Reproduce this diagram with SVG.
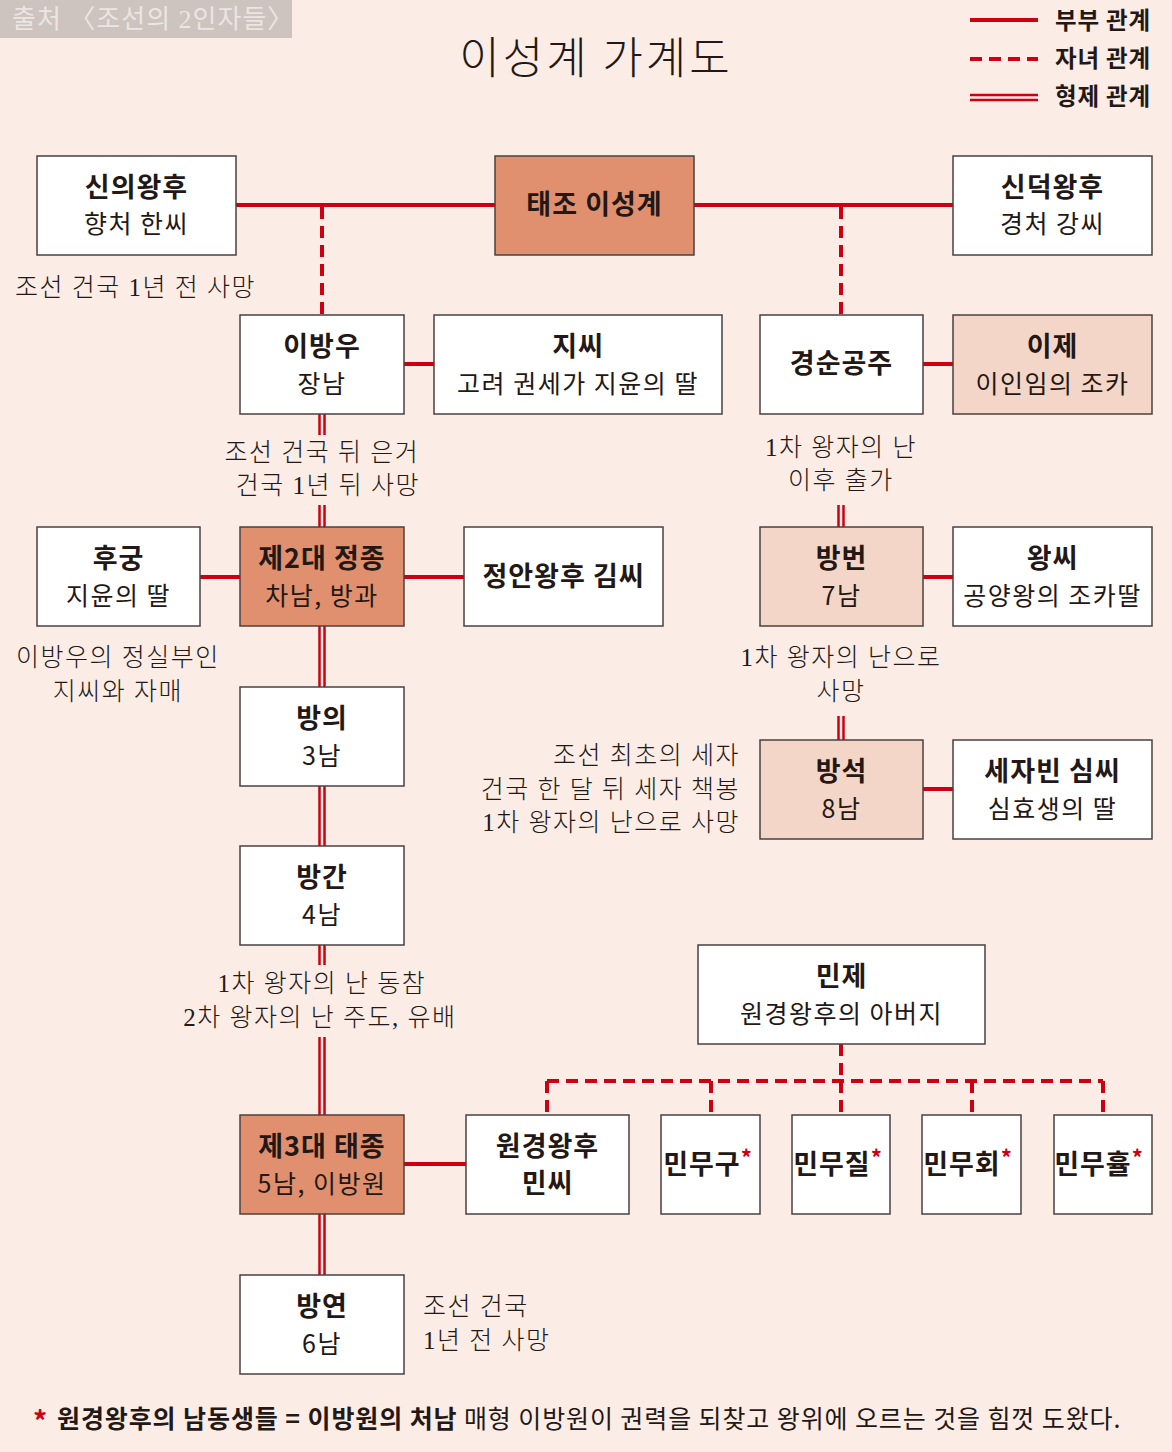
<svg xmlns="http://www.w3.org/2000/svg" width="1172" height="1452" viewBox="0 0 1172 1452">
<style>
.bg{fill:#fbede6}
.box{fill:#ffffff;stroke:#4a4040;stroke-width:1.5}
.dark{fill:#e0906e;stroke:#4a4040;stroke-width:1.5}
.light{fill:#f3d6c7;stroke:#4a4040;stroke-width:1.5}
.b{font-family:"Noto Sans CJK KR","Noto Sans",sans-serif;font-weight:700;font-size:27px;fill:#231815;text-anchor:middle;letter-spacing:1px}
.r{font-family:"Noto Sans CJK KR","Noto Sans",sans-serif;font-weight:400;font-size:25px;fill:#231815;text-anchor:middle;letter-spacing:1.5px}
.n{font-family:"Liberation Serif","Noto Sans CJK KR",serif;font-weight:300;font-size:25px;fill:#231815;letter-spacing:1.5px}
.sp{stroke:#cc0011;stroke-width:4;fill:none}
.ch{stroke:#cc0011;stroke-width:4;fill:none;stroke-dasharray:12 7}
.db{stroke:#cc0011;stroke-width:2.5;fill:none}
.star{fill:#cc0011}
.lg{font-family:"Noto Sans CJK KR",sans-serif;font-weight:700;font-size:23.5px;fill:#231815;letter-spacing:0.8px}
</style>
<rect class="bg" x="0" y="0" width="1172" height="1452"/>

<g id="source">
<rect x="0" y="0" width="292" height="38" fill="#cdc3bf"/>
<text x="12" y="28" font-family="Liberation Serif,'Noto Sans CJK KR',serif" font-size="26" letter-spacing="1" fill="#ece5e1">출처 〈조선의 2인자들〉</text>
</g>

<text id="title" x="596" y="74" font-family="'Noto Sans CJK KR',sans-serif" font-weight="300" font-size="44" fill="#231815" text-anchor="middle" letter-spacing="3">이성계 가계도</text>

<g id="legend">
<line class="sp" x1="970" y1="20" x2="1038" y2="20"/>
<line class="ch" x1="970" y1="59" x2="1038" y2="59" stroke-dasharray="10 8"/>
<line class="db" x1="970" y1="95" x2="1038" y2="95"/>
<line class="db" x1="970" y1="100" x2="1038" y2="100"/>
<text class="lg" x="1055" y="29">부부 관계</text>
<text class="lg" x="1055" y="67">자녀 관계</text>
<text class="lg" x="1055" y="105">형제 관계</text>
</g>

<g id="connectors">
<line class="sp" x1="236" y1="205" x2="495" y2="205"/>
<line class="sp" x1="694" y1="205" x2="953" y2="205"/>
<line class="ch" x1="322" y1="207" x2="322" y2="315"/>
<line class="ch" x1="841" y1="207" x2="841" y2="315"/>
<line class="sp" x1="404" y1="364" x2="434" y2="364"/>
<line class="sp" x1="923" y1="364" x2="953" y2="364"/>
<line class="sp" x1="200" y1="577" x2="240" y2="577"/>
<line class="sp" x1="404" y1="577" x2="464" y2="577"/>
<line class="sp" x1="923" y1="577" x2="953" y2="577"/>
<line class="sp" x1="923" y1="789" x2="953" y2="789"/>
<line class="sp" x1="404" y1="1164" x2="466" y2="1164"/>
<g class="db">
<line x1="319.5" y1="414" x2="319.5" y2="435"/><line x1="324.5" y1="414" x2="324.5" y2="435"/>
<line x1="319.5" y1="505" x2="319.5" y2="527"/><line x1="324.5" y1="505" x2="324.5" y2="527"/>
<line x1="319.5" y1="626" x2="319.5" y2="687"/><line x1="324.5" y1="626" x2="324.5" y2="687"/>
<line x1="319.5" y1="786" x2="319.5" y2="846"/><line x1="324.5" y1="786" x2="324.5" y2="846"/>
<line x1="319.5" y1="945" x2="319.5" y2="965"/><line x1="324.5" y1="945" x2="324.5" y2="965"/>
<line x1="319.5" y1="1037" x2="319.5" y2="1115"/><line x1="324.5" y1="1037" x2="324.5" y2="1115"/>
<line x1="319.5" y1="1214" x2="319.5" y2="1275"/><line x1="324.5" y1="1214" x2="324.5" y2="1275"/>
<line x1="838.5" y1="505" x2="838.5" y2="527"/><line x1="843.5" y1="505" x2="843.5" y2="527"/>
<line x1="838.5" y1="716" x2="838.5" y2="740"/><line x1="843.5" y1="716" x2="843.5" y2="740"/>
</g>
<line class="ch" x1="841" y1="1044" x2="841" y2="1081"/>
<line class="ch" x1="547" y1="1081" x2="1103" y2="1081"/>
<line class="ch" x1="547" y1="1081" x2="547" y2="1115"/>
<line class="ch" x1="711" y1="1081" x2="711" y2="1115"/>
<line class="ch" x1="841" y1="1081" x2="841" y2="1115"/>
<line class="ch" x1="972" y1="1081" x2="972" y2="1115"/>
<line class="ch" x1="1103" y1="1081" x2="1103" y2="1115"/>
</g>

<g id="n-sinui"><rect class="box" x="37" y="156" width="199" height="99"/><text class="b" x="136.5" y="197">신의왕후</text><text class="r" x="136.5" y="233">향처 한씨</text></g>
<g id="n-taejo"><rect class="dark" x="495" y="156" width="199" height="99"/><text class="b" x="594.5" y="214">태조 이성계</text></g>
<g id="n-sindeok"><rect class="box" x="953" y="156" width="199" height="99"/><text class="b" x="1052.5" y="197">신덕왕후</text><text class="r" x="1052.5" y="233">경처 강씨</text></g>

<g id="n-bangwoo"><rect class="box" x="240" y="315" width="164" height="99"/><text class="b" x="322" y="356">이방우</text><text class="r" x="322" y="393">장남</text></g>
<g id="n-jissi"><rect class="box" x="434" y="315" width="288" height="99"/><text class="b" x="578" y="356">지씨</text><text class="r" x="578" y="393">고려 권세가 지윤의 딸</text></g>
<g id="n-gyeongsun"><rect class="box" x="760" y="315" width="163" height="99"/><text class="b" x="841.5" y="373">경순공주</text></g>
<g id="n-ije"><rect class="light" x="953" y="315" width="199" height="99"/><text class="b" x="1052.5" y="356">이제</text><text class="r" x="1052.5" y="393">이인임의 조카</text></g>

<g id="n-hugung"><rect class="box" x="37" y="527" width="163" height="99"/><text class="b" x="118.5" y="568">후궁</text><text class="r" x="118.5" y="605">지윤의 딸</text></g>
<g id="n-jeongjong"><rect class="dark" x="240" y="527" width="164" height="99"/><text class="b" x="322" y="568">제2대 정종</text><text class="r" x="322" y="605">차남, 방과</text></g>
<g id="n-jeongan"><rect class="box" x="464" y="527" width="199" height="99"/><text class="b" x="563.5" y="586">정안왕후 김씨</text></g>
<g id="n-bangbeon"><rect class="light" x="760" y="527" width="163" height="99"/><text class="b" x="841.5" y="568">방번</text><text class="r" x="841.5" y="605">7남</text></g>
<g id="n-wangssi"><rect class="box" x="953" y="527" width="199" height="99"/><text class="b" x="1052.5" y="568">왕씨</text><text class="r" x="1052.5" y="605">공양왕의 조카딸</text></g>

<g id="n-bangui"><rect class="box" x="240" y="687" width="164" height="99"/><text class="b" x="322" y="728">방의</text><text class="r" x="322" y="765">3남</text></g>
<g id="n-bangseok"><rect class="light" x="760" y="740" width="163" height="99"/><text class="b" x="841.5" y="781">방석</text><text class="r" x="841.5" y="818">8남</text></g>
<g id="n-sim"><rect class="box" x="953" y="740" width="199" height="99"/><text class="b" x="1052.5" y="781">세자빈 심씨</text><text class="r" x="1052.5" y="818">심효생의 딸</text></g>

<g id="n-banggan"><rect class="box" x="240" y="846" width="164" height="99"/><text class="b" x="322" y="887">방간</text><text class="r" x="322" y="924">4남</text></g>
<g id="n-minje"><rect class="box" x="698" y="945" width="287" height="99"/><text class="b" x="841.5" y="986">민제</text><text class="r" x="841.5" y="1023">원경왕후의 아버지</text></g>

<g id="n-taejong"><rect class="dark" x="240" y="1115" width="164" height="99"/><text class="b" x="322" y="1156">제3대 태종</text><text class="r" x="322" y="1193">5남, 이방원</text></g>
<g id="n-wongyeong"><rect class="box" x="466" y="1115" width="163" height="99"/><text class="b" x="547.5" y="1156">원경왕후</text><text class="b" x="547.5" y="1193">민씨</text></g>
<g id="n-mugu"><rect class="box" x="661" y="1115" width="99" height="99"/><text class="b" x="708" y="1174" letter-spacing="0">민무구<tspan class="star" font-size="22" dy="-8">*</tspan></text></g>
<g id="n-mujil"><rect class="box" x="792" y="1115" width="98" height="99"/><text class="b" x="838" y="1174" letter-spacing="0">민무질<tspan class="star" font-size="22" dy="-8">*</tspan></text></g>
<g id="n-muhoe"><rect class="box" x="922" y="1115" width="99" height="99"/><text class="b" x="968" y="1174" letter-spacing="0">민무회<tspan class="star" font-size="22" dy="-8">*</tspan></text></g>
<g id="n-muhyul"><rect class="box" x="1054" y="1115" width="98" height="99"/><text class="b" x="1099" y="1174" letter-spacing="0">민무휼<tspan class="star" font-size="22" dy="-8">*</tspan></text></g>

<g id="n-bangyeon"><rect class="box" x="240" y="1275" width="164" height="99"/><text class="b" x="322" y="1316">방연</text><text class="r" x="322" y="1353">6남</text></g>

<g id="notes">
<text class="n" x="15" y="296">조선 건국 1년 전 사망</text>
<text class="n" x="322" y="461" text-anchor="middle">조선 건국 뒤 은거</text>
<text class="n" x="328" y="494" text-anchor="middle">건국 1년 뒤 사망</text>
<text class="n" x="841" y="456" text-anchor="middle">1차 왕자의 난</text>
<text class="n" x="841" y="489" text-anchor="middle">이후 출가</text>
<text class="n" x="118" y="666" text-anchor="middle">이방우의 정실부인</text>
<text class="n" x="118" y="700" text-anchor="middle">지씨와 자매</text>
<text class="n" x="841" y="666" text-anchor="middle">1차 왕자의 난으로</text>
<text class="n" x="841" y="700" text-anchor="middle">사망</text>
<text class="n" x="740" y="764" text-anchor="end">조선 최초의 세자</text>
<text class="n" x="740" y="798" text-anchor="end">건국 한 달 뒤 세자 책봉</text>
<text class="n" x="740" y="831" text-anchor="end">1차 왕자의 난으로 사망</text>
<text class="n" x="322" y="992" text-anchor="middle">1차 왕자의 난 동참</text>
<text class="n" x="320" y="1026" text-anchor="middle">2차 왕자의 난 주도, 유배</text>
<text class="n" x="423" y="1315">조선 건국</text>
<text class="n" x="423" y="1349">1년 전 사망</text>
</g>

<g id="footer">
<text x="33" y="1432" font-family="'Noto Sans CJK KR',sans-serif" font-weight="700" font-size="28" fill="#cc0011">*</text>
<text x="57" y="1428" font-family="'Noto Sans CJK KR',sans-serif" font-size="25" fill="#231815" letter-spacing="0.9"><tspan font-weight="700">원경왕후의 남동생들 = 이방원의 처남</tspan> 매형 이방원이 권력을 되찾고 왕위에 오르는 것을 힘껏 도왔다.</text>
</g>
</svg>
